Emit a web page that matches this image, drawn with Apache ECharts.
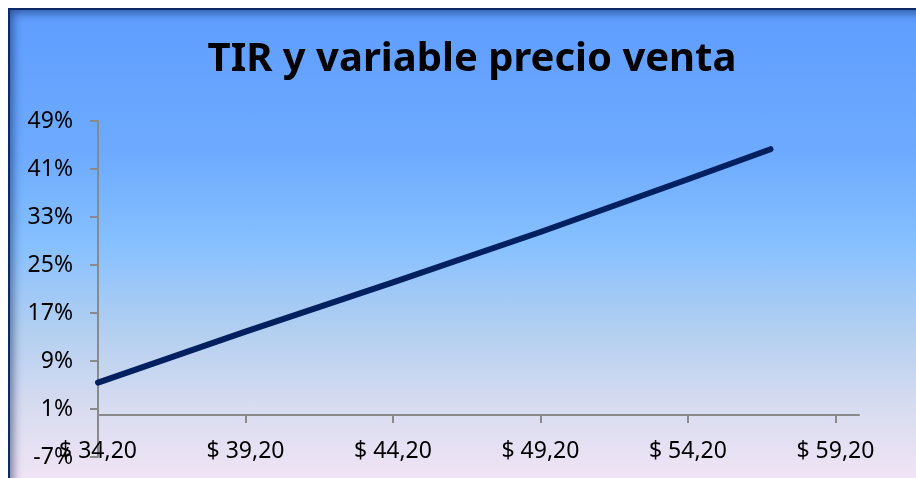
<!DOCTYPE html>
<html>
<head>
<meta charset="utf-8">
<script src="https://cdn.jsdelivr.net/npm/echarts@6/dist/echarts.min.js"></script>
<style>
  html, body { margin: 0; padding: 0; background: #ffffff; overflow: hidden; }
  #frame {
    position: absolute; left: 8px; top: 8px; width: 940px; height: 490px;
    box-sizing: border-box;
    border: 2px solid #0c2a66;
    background: linear-gradient(to bottom, #5f9dff 0%, #6eabff 30%, #86c0ff 48%, #b3cff0 66%, #d8dcf0 82%, #f7e6f7 100%);
    box-shadow: inset 0 0 10px 3px rgba(10, 30, 80, 0.55);
  }
  #chart { position: absolute; left: 0; top: 0; width: 916px; height: 478px; }
</style>
</head>
<body>
<div id="frame"></div>
<div id="chart"></div>
<script>
// Sale price (USD) and the resulting IRR (%)
const prices = [34.2, 39.2, 44.2, 49.2, 54.2, 57.0];
const tirValues = [5.4, 13.9, 22.1, 30.5, 39.3, 44.3];

// Axis ticks and their labels
const xTickValues = [34.2, 39.2, 44.2, 49.2, 54.2, 59.2];
const xTickLabels = ['$ 34,20', '$ 39,20', '$ 44,20', '$ 49,20', '$ 54,20', '$ 59,20'];
const yTickValues = [-7, 1, 9, 17, 25, 33, 41, 49];
const yTickLabels = ['-7%', '1%', '9%', '17%', '25%', '33%', '41%', '49%'];

const chartTitle = 'TIR y variable precio venta';

const labelFont = '"Noto Sans", sans-serif';
const axisGrey = '#8a8a8a';

function lookup(values, labels, v) {
  for (let i = 0; i < values.length; i++) {
    if (Math.abs(values[i] - v) < 1e-6) return labels[i];
  }
  return '';
}

const chart = echarts.init(document.getElementById('chart'), null, { renderer: 'canvas' });
chart.setOption({
  backgroundColor: 'transparent',
  animation: false,
  title: {
    text: chartTitle,
    left: 467,
    top: 35,
    textAlign: 'center',
    textStyle: { fontFamily: labelFont, fontWeight: 'bold', fontSize: 40, color: '#000000' }
  },
  grid: { left: 98, right: 57, top: 121, bottom: 21, containLabel: false, outerBoundsMode: 'none' },
  xAxis: {
    type: 'value',
    min: 34.2,
    max: 60,
    splitLine: { show: false },
    axisLine: { show: true, onZero: true, lineStyle: { color: axisGrey, width: 2 } },
    axisTick: { show: true, inside: false, length: 8, customValues: xTickValues, lineStyle: { color: axisGrey, width: 2 } },
    axisLabel: {
      show: true, margin: -17, customValues: xTickValues,
      fontFamily: labelFont, fontSize: 23, color: '#000000',
      formatter: v => lookup(xTickValues, xTickLabels, v)
    }
  },
  yAxis: {
    type: 'value',
    min: -7,
    max: 49,
    splitLine: { show: false },
    axisLine: { show: true, onZero: false, lineStyle: { color: axisGrey, width: 2 } },
    axisTick: { show: true, inside: false, length: 8, customValues: yTickValues, lineStyle: { color: axisGrey, width: 2 } },
    axisLabel: {
      show: true, margin: 25, customValues: yTickValues,
      fontFamily: labelFont, fontSize: 23, color: '#000000',
      formatter: v => lookup(yTickValues, yTickLabels, v)
    }
  },
  series: [{
    type: 'line',
    data: prices.map((p, i) => [p, tirValues[i]]),
    showSymbol: false,
    symbol: 'none',
    lineStyle: { color: '#002060', width: 6, cap: 'round', join: 'round' },
    z: 5
  }]
});
</script>
</body>
</html>
